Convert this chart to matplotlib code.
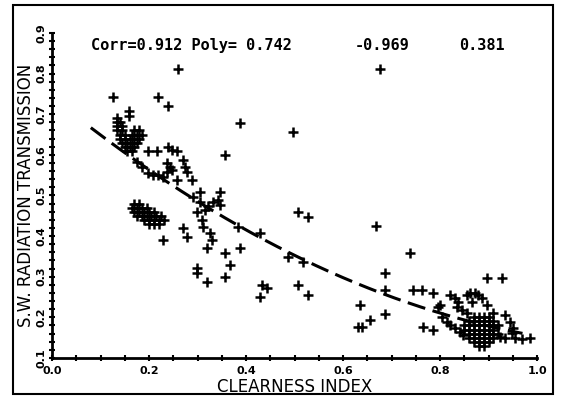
import matplotlib
matplotlib.use('Agg')
import matplotlib.pyplot as plt
from matplotlib.patches import Rectangle
import numpy as np

# clearness index vs. short-wave radiation transmission
clear_idx = [
    # upper-left cluster
    0.135, 0.135, 0.14, 0.135, 0.145, 0.135, 0.145, 0.17, 0.18,
    0.14, 0.15, 0.165, 0.175, 0.185, 0.14, 0.15, 0.16, 0.17, 0.18,
    0.145, 0.155, 0.165, 0.175, 0.15, 0.16, 0.17, 0.155, 0.165,
    # lower-left cluster
    0.17, 0.18, 0.165, 0.175, 0.185, 0.195, 0.17, 0.18, 0.19, 0.20, 0.21,
    0.175, 0.185, 0.195, 0.205, 0.215, 0.225, 0.19, 0.20, 0.21, 0.22, 0.23,
    0.20, 0.21, 0.22,
    # scattered middle
    0.126, 0.219, 0.239, 0.159, 0.159, 0.260, 0.676, 0.497, 0.388, 0.357,
    0.175, 0.186, 0.198, 0.216, 0.198, 0.208, 0.219, 0.229,
    0.239, 0.247, 0.258, 0.237, 0.243, 0.247, 0.237, 0.258,
    0.270, 0.274, 0.278, 0.289,
    0.305, 0.346, 0.291, 0.305, 0.322, 0.332, 0.342, 0.346, 0.315, 0.299,
    0.309, 0.311, 0.326, 0.330, 0.320, 0.270, 0.278, 0.229,
    0.384, 0.388, 0.429, 0.357, 0.367, 0.357, 0.299, 0.299, 0.320,
    0.433, 0.443, 0.429, 0.487, 0.518, 0.507, 0.528, 0.507, 0.528,
    0.668, 0.738, 0.687, 0.687, 0.687, 0.635, 0.656, 0.639, 0.631,
    0.744, 0.763, 0.786, 0.796, 0.765, 0.786, 0.897, 0.928,
    # right cluster edges
    0.821, 0.856, 0.862, 0.872, 0.878, 0.887, 0.831, 0.837, 0.866, 0.897, 0.800,
    0.835, 0.845, 0.856, 0.804, 0.814, 0.821, 0.831, 0.841, 0.847,
    0.909, 0.934, 0.944, 0.950, 0.948,
    0.909, 0.924, 0.934, 0.955, 0.969, 0.986,
    # right cluster core
    0.87, 0.88, 0.89, 0.90,
    0.86, 0.87, 0.88, 0.89, 0.90, 0.91,
    0.85, 0.86, 0.87, 0.88, 0.89, 0.90, 0.91, 0.92,
    0.85, 0.86, 0.87, 0.88, 0.89, 0.90, 0.91,
    0.86, 0.87, 0.88, 0.89, 0.90, 0.91, 0.92,
    0.86, 0.87, 0.88, 0.89, 0.90,
    0.87, 0.88, 0.89, 0.90,
    0.88, 0.89,
]
transmission = [
    0.69, 0.68, 0.68, 0.67, 0.67, 0.66, 0.66, 0.66, 0.66,
    0.65, 0.65, 0.65, 0.65, 0.65, 0.64, 0.64, 0.64, 0.64, 0.64,
    0.63, 0.63, 0.63, 0.63, 0.62, 0.62, 0.62, 0.61, 0.61,
    0.48, 0.48, 0.47, 0.47, 0.47, 0.47, 0.46, 0.46, 0.46, 0.46, 0.46,
    0.45, 0.45, 0.45, 0.45, 0.45, 0.45, 0.44, 0.44, 0.44, 0.44, 0.44,
    0.43, 0.43, 0.43,
    0.742, 0.742, 0.720, 0.708, 0.696, 0.811, 0.811, 0.656, 0.678, 0.600,
    0.582, 0.570, 0.609, 0.609, 0.555, 0.550, 0.550, 0.545,
    0.619, 0.612, 0.609, 0.580, 0.570, 0.563, 0.558, 0.538,
    0.587, 0.570, 0.558, 0.538,
    0.508, 0.508, 0.496, 0.484, 0.474, 0.484, 0.489, 0.476, 0.464, 0.459,
    0.439, 0.422, 0.407, 0.390, 0.370, 0.420, 0.398, 0.390,
    0.422, 0.370, 0.407, 0.358, 0.329, 0.299, 0.321, 0.309, 0.287,
    0.279, 0.272, 0.250, 0.348, 0.336, 0.279, 0.255, 0.459, 0.447,
    0.425, 0.358, 0.309, 0.267, 0.208, 0.230, 0.193, 0.176, 0.176,
    0.267, 0.267, 0.260, 0.225, 0.176, 0.168, 0.297, 0.297,
    0.255, 0.255, 0.260, 0.260, 0.255, 0.247, 0.247, 0.237, 0.237, 0.230, 0.230,
    0.225, 0.218, 0.210, 0.200, 0.188, 0.181, 0.173, 0.163, 0.156,
    0.210, 0.205, 0.188, 0.173, 0.161,
    0.149, 0.151, 0.149, 0.149, 0.146, 0.149,
    0.20, 0.20, 0.20, 0.20,
    0.19, 0.19, 0.19, 0.19, 0.19, 0.19,
    0.18, 0.18, 0.18, 0.18, 0.18, 0.18, 0.18, 0.18,
    0.17, 0.17, 0.17, 0.17, 0.17, 0.17, 0.17,
    0.16, 0.16, 0.16, 0.16, 0.16, 0.16, 0.16,
    0.15, 0.15, 0.15, 0.15, 0.15,
    0.14, 0.14, 0.14, 0.14,
    0.13, 0.13,
]

# fit reported on the chart
corr = 0.912
poly = [0.742, -0.969, 0.381]

fig = plt.figure(figsize=(5.63, 3.99), dpi=100)
ax = fig.add_axes([0.0924, 0.1028, 0.8615, 0.8145])

ax.plot(clear_idx, transmission, '+', color='black', markersize=7.5, mew=1.8)

xf = np.linspace(0.08, 0.97, 200)
yf = poly[0] + poly[1] * xf + poly[2] * xf**2
ax.plot(xf, yf, color='black', lw=2.2, dashes=(6, 2.5))

ax.set_xlim(0.0, 1.0)
ax.set_ylim(0.1, 0.9)
for s in ['top', 'right']:
    ax.spines[s].set_visible(False)
for s in ['left', 'bottom']:
    ax.spines[s].set_linewidth(2)

ax.set_xticks(np.arange(0, 1.01, 0.2))
ax.set_xticklabels(['0.0', '0.2', '0.4', '0.6', '0.8', '1.0'],
                   fontsize=8, fontweight='bold')
ax.set_xticks(np.arange(0, 1.01, 0.05), minor=True)
ax.set_yticks(np.arange(0.1, 0.91, 0.1))
ax.set_yticklabels(['0.1', '0.2', '0.3', '0.4', '0.5', '0.6', '0.7', '0.8', '0.9'],
                   fontsize=8, fontweight='bold', rotation=90, va='center')
ax.set_yticks(np.arange(0.1, 0.91, 0.02), minor=True)
ax.tick_params(which='both', direction='inout', length=4, width=1.5)
ax.tick_params(axis='x', pad=4)
ax.tick_params(axis='y', pad=2)

ax.set_xlabel('CLEARNESS INDEX', fontsize=12, labelpad=1)
ax.set_ylabel('S.W. RADIATION TRANSMISSION', fontsize=12, labelpad=1)

ax.text(0.08, 0.96, 'Corr=%.3f Poly= %.3f' % (corr, poly[0]),
        transform=ax.transAxes, family='DejaVu Sans Mono', fontweight='bold',
        fontsize=11, va='center')
ax.text(0.625, 0.96, '%.3f' % poly[1], transform=ax.transAxes,
        family='DejaVu Sans Mono', fontweight='bold', fontsize=11, va='center')
ax.text(0.84, 0.96, '%.3f' % poly[2], transform=ax.transAxes,
        family='DejaVu Sans Mono', fontweight='bold', fontsize=11, va='center')

fig.add_artist(Rectangle((0.023, 0.0125), 0.959, 0.975, transform=fig.transFigure,
                         fill=False, edgecolor='black', lw=1.5))

fig.savefig('out.png', dpi=100)
